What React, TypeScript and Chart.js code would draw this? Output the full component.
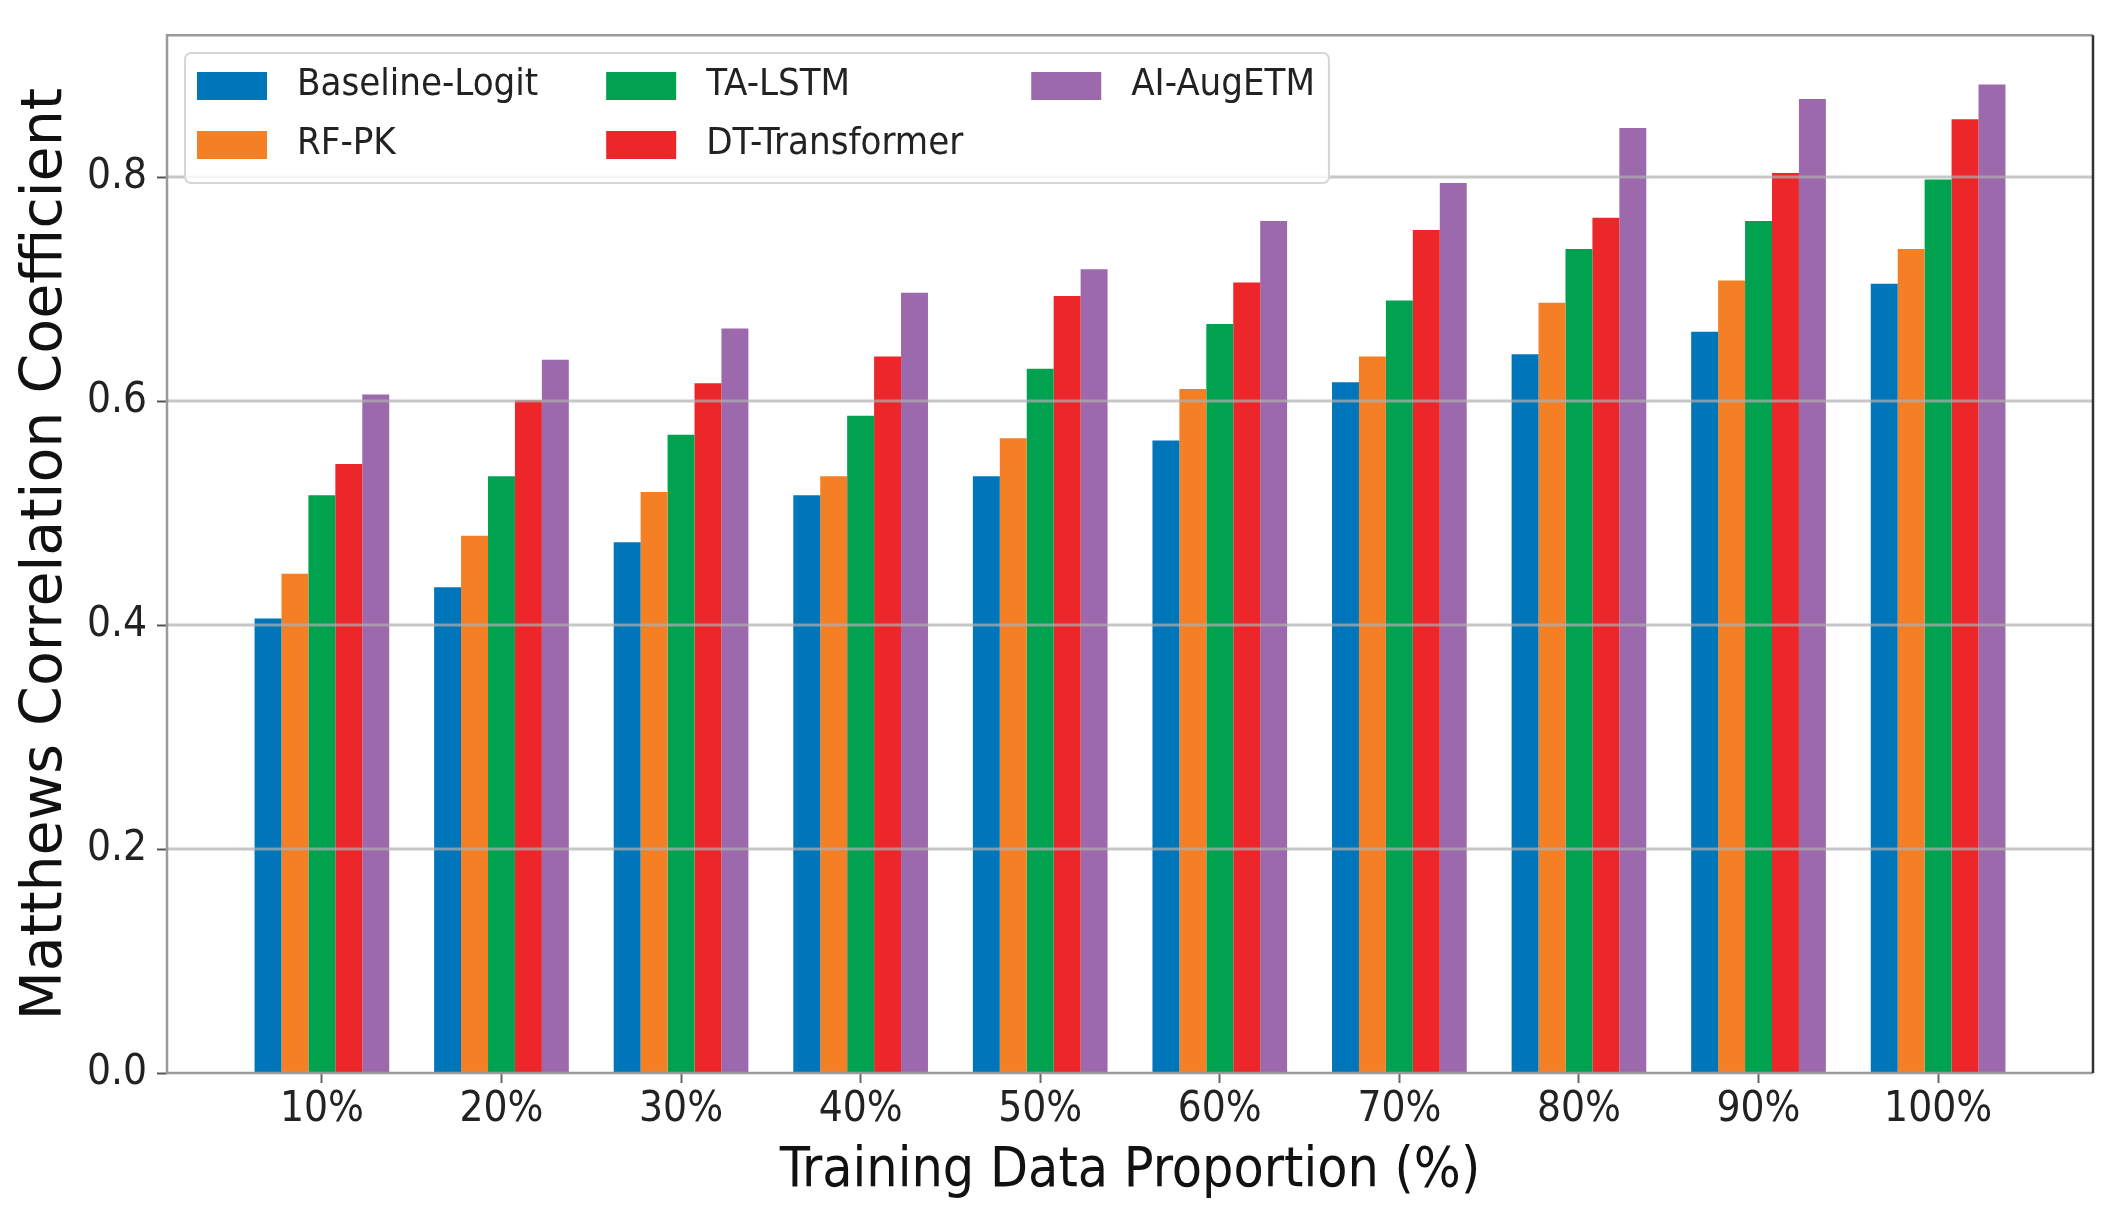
import { useEffect, useRef } from "react";
import { Chart, registerables } from "chart.js";

Chart.register(...registerables);

// data
const categories = ["10%", "20%", "30%", "40%", "50%", "60%", "70%", "80%", "90%", "100%"];
const seriesNames = ["Baseline-Logit", "RF-PK", "TA-LSTM", "DT-Transformer", "AI-AugETM"];
const baselineLogit = [0.406, 0.434, 0.474, 0.516, 0.533, 0.565, 0.617, 0.642, 0.662, 0.705];
const rfPk = [0.446, 0.48, 0.519, 0.533, 0.567, 0.611, 0.64, 0.688, 0.708, 0.736];
const taLstm = [0.516, 0.533, 0.57, 0.587, 0.629, 0.669, 0.69, 0.736, 0.761, 0.798];
const dtTransformer = [0.544, 0.601, 0.616, 0.64, 0.694, 0.706, 0.753, 0.764, 0.804, 0.852];
const aiAugEtm = [0.606, 0.637, 0.665, 0.697, 0.718, 0.761, 0.795, 0.844, 0.87, 0.883];
const seriesValues = [baselineLogit, rfPk, taLstm, dtTransformer, aiAugEtm];
const seriesColors = ["#0076ba", "#f47f24", "#00a14f", "#ec2629", "#9c69ad"];

const xTitle = "Training Data Proportion (%)";
const yTitle = "Matthews Correlation Coefficient";

const COND = "'DejaVu Sans Condensed', 'DejaVu Sans', sans-serif";
const REG = "'DejaVu Sans', sans-serif";

// legend is laid out column-wise, like matplotlib's ncol=3
const legendColumns = [[0, 1], [2, 3], [4]];

const overlayPlugin = {
  id: "overlay",
  afterDatasetsDraw(chart: any) {
    const { ctx, chartArea: a, scales } = chart;
    ctx.save();
    // horizontal grid drawn over the bars
    ctx.strokeStyle = "rgba(175,175,175,0.7)";
    ctx.lineWidth = 3;
    scales.y.ticks.forEach((t: any) => {
      if (t.value === 0) return;
      const py = Math.round(scales.y.getPixelForValue(t.value));
      ctx.beginPath();
      ctx.moveTo(a.left, py);
      ctx.lineTo(a.right, py);
      ctx.stroke();
    });
    // frame
    ctx.lineWidth = 2.5;
    ctx.strokeStyle = "#9a9a9a";
    ctx.beginPath();
    ctx.moveTo(a.right, a.top);
    ctx.lineTo(a.left, a.top);
    ctx.lineTo(a.left, a.bottom);
    ctx.lineTo(a.right, a.bottom);
    ctx.stroke();
    ctx.strokeStyle = "#333";
    ctx.beginPath();
    ctx.moveTo(a.right, a.top);
    ctx.lineTo(a.right, a.bottom);
    ctx.stroke();
    ctx.restore();
  },
  afterDraw(chart: any) {
    const { ctx } = chart;
    const boxLeft = 185;
    const boxTop = 53;
    const boxBottom = 183;
    const rowY = [86, 145];
    const patchW = 70;
    const patchH = 28;
    ctx.save();
    ctx.font = `38px ${COND}`;
    const cols: { x: number; items: number[] }[] = [];
    let x = boxLeft + 12;
    let right = x;
    legendColumns.forEach((items) => {
      cols.push({ x, items });
      const w = Math.max(...items.map((i) => ctx.measureText(seriesNames[i]).width));
      right = x + patchW + 30 + w;
      x = right + 68;
    });
    const boxRight = right + 14;
    ctx.fillStyle = "rgba(255,255,255,0.85)";
    ctx.strokeStyle = "#d6d6d6";
    ctx.lineWidth = 2;
    ctx.beginPath();
    ctx.roundRect(boxLeft, boxTop, boxRight - boxLeft, boxBottom - boxTop, 6);
    ctx.fill();
    ctx.stroke();
    ctx.textBaseline = "middle";
    ctx.textAlign = "left";
    cols.forEach((c) => {
      c.items.forEach((i, r) => {
        ctx.fillStyle = seriesColors[i];
        ctx.fillRect(c.x, rowY[r] - patchH / 2, patchW, patchH);
        ctx.fillStyle = "#222";
        ctx.fillText(seriesNames[i], c.x + patchW + 30, rowY[r] - 1);
      });
    });
    ctx.restore();
  },
};

const App = () => {
  const canvasRef = useRef<HTMLCanvasElement | null>(null);

  useEffect(() => {
    if (!canvasRef.current) return;
    const chart = new Chart(canvasRef.current, {
      type: "bar",
      data: {
        datasets: seriesNames.map((name, s) => ({
          label: name,
          data: seriesValues[s].map((v, i) => ({ x: i, y: v })),
          backgroundColor: seriesColors[s],
          borderWidth: 0,
          categoryPercentage: 0.75,
          barPercentage: 1.0,
        })),
      },
      options: {
        animation: false,
        responsive: false,
        layout: { padding: { top: 32, right: 35, left: 0, bottom: 0 } },
        plugins: {
          legend: { display: false },
          tooltip: { enabled: false },
        },
        scales: {
          x: {
            type: "linear",
            min: -0.8625,
            max: 9.8625,
            offset: false,
            afterBuildTicks: (axis: any) => {
              axis.ticks = categories.map((_, i) => ({ value: i }));
            },
            afterFit: (axis: any) => {
              axis.height = 156;
            },
            grid: {
              offset: false,
              drawOnChartArea: false,
              drawTicks: true,
              tickLength: 10,
              tickColor: "#666",
              tickWidth: 2,
            },
            border: { display: false },
            ticks: {
              autoSkip: false,
              maxRotation: 0,
              padding: 2,
              color: "#222",
              font: { family: COND, size: 42 },
              callback: (v: any) => categories[v] ?? "",
            },
            title: {
              display: true,
              text: xTitle,
              color: "#111",
              font: { family: COND, size: 55, lineHeight: 1 },
              padding: { top: 0, bottom: 30 },
            },
          },
          y: {
            min: 0,
            max: 0.927,
            afterFit: (axis: any) => {
              axis.width = 167;
            },
            grid: { drawOnChartArea: false, drawTicks: true, tickLength: 10, tickColor: "#555", tickWidth: 2 },
            border: { display: false },
            ticks: {
              stepSize: 0.2,
              includeBounds: false,
              padding: 10,
              color: "#222",
              font: { family: COND, size: 42 },
              callback: (v: any) => Number(v).toFixed(1),
            },
            title: {
              display: true,
              text: yTitle,
              color: "#111",
              font: { family: REG, size: 57, lineHeight: 1 },
              padding: { top: 18, bottom: 0 },
            },
          },
        },
      },
      plugins: [overlayPlugin],
    });
    return () => {
      chart.destroy();
    };
  }, []);

  return (
    <canvas
      ref={canvasRef}
      width={2128}
      height={1229}
      style={{ position: "fixed", left: 0, top: 0, background: "#fff" }}
    ></canvas>
  );
};

export default App;
